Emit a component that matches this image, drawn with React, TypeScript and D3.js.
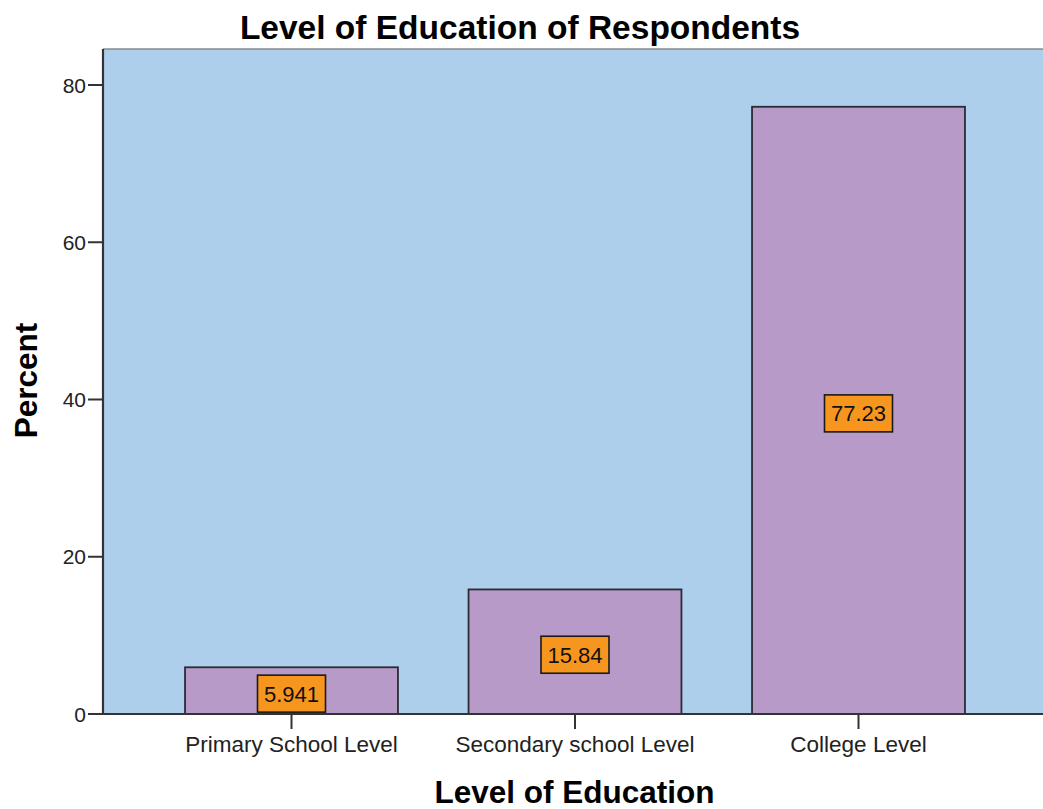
import React from "react";
import * as d3 from "d3";

const categories = ["Primary School Level", "Secondary school Level", "College Level"];
const percents = [5.941, 15.84, 77.23];
const yTicks = [0, 20, 40, 60, 80];

const W = 1043;
const H = 809;
const FONT = "'Liberation Sans', Arial, Helvetica, sans-serif";

export default function App() {
  const plotLeft = 103;
  const plotTop = 49;
  const plotRight = 1046;
  const baseY = 714;

  const y = d3.scaleLinear().domain([0, 80]).range([baseY, 85]);
  const x = d3
    .scaleBand<string>()
    .domain(categories)
    .range([149.75, 1000.25])
    .paddingInner(0.249)
    .paddingOuter(0.1245);
  const fmt = d3.format(".4r");

  const boxW = 68;
  const boxH = 37;

  return (
    <svg
      width={W}
      height={H}
      style={{ position: "absolute", left: 0, top: 0, background: "#fff" }}
      fontFamily={FONT}
    >
      {/* plot background */}
      <rect
        x={plotLeft}
        y={plotTop}
        width={plotRight - plotLeft}
        height={baseY - plotTop}
        fill="#ADCFEC"
      />
      <line x1={plotLeft} x2={plotRight} y1={plotTop} y2={plotTop} stroke="#8a8a8a" strokeWidth={1.5} />

      {/* bars */}
      {categories.map((c, i) => (
        <rect
          key={c}
          x={x(c)!}
          y={y(percents[i])}
          width={x.bandwidth()}
          height={y(0) - y(percents[i])}
          fill="#B79AC8"
          stroke="#2b2b33"
          strokeWidth={1.8}
        />
      ))}

      {/* axes */}
      <line x1={plotLeft} x2={plotLeft} y1={plotTop} y2={baseY + 1} stroke="#333" strokeWidth={2.2} />
      <line x1={plotLeft - 1} x2={plotRight} y1={baseY} y2={baseY} stroke="#333" strokeWidth={2} />

      {yTicks.map((t) => (
        <g key={t}>
          <line x1={plotLeft - 15} x2={plotLeft} y1={y(t)} y2={y(t)} stroke="#333" strokeWidth={2} />
          <text
            x={plotLeft - 17}
            y={y(t)}
            dy="0.36em"
            textAnchor="end"
            fontSize={21}
            fill="#222"
          >
            {t}
          </text>
        </g>
      ))}

      {categories.map((c) => {
        const cx = x(c)! + x.bandwidth() / 2;
        return (
          <g key={c}>
            <line x1={cx} x2={cx} y1={baseY} y2={baseY + 15} stroke="#333" strokeWidth={2} />
            <text x={cx} y={752} textAnchor="middle" fontSize={22.5} fill="#222">
              {c}
            </text>
          </g>
        );
      })}

      {/* value labels */}
      {categories.map((c, i) => {
        const cx = x(c)! + x.bandwidth() / 2;
        const cy = Math.min((y(0) + y(percents[i])) / 2 + 3, baseY - boxH / 2);
        return (
          <g key={c}>
            <rect
              x={cx - boxW / 2}
              y={cy - boxH / 2}
              width={boxW}
              height={boxH}
              fill="#F7961E"
              stroke="#1a1a1a"
              strokeWidth={1.6}
            />
            <text x={cx} y={cy} dy="0.36em" textAnchor="middle" fontSize={22} fill="#111">
              {fmt(percents[i])}
            </text>
          </g>
        );
      })}

      {/* titles */}
      <text x={520} y={39} textAnchor="middle" fontSize={33.5} fontWeight="bold" fill="#000">
        Level of Education of Respondents
      </text>
      <text x={574.5} y={803} textAnchor="middle" fontSize={31.5} fontWeight="bold" fill="#000">
        Level of Education
      </text>
      <text
        transform={`translate(37, 380.5) rotate(-90)`}
        textAnchor="middle"
        fontSize={31.5}
        fontWeight="bold"
        fill="#000"
      >
        Percent
      </text>
    </svg>
  );
}
